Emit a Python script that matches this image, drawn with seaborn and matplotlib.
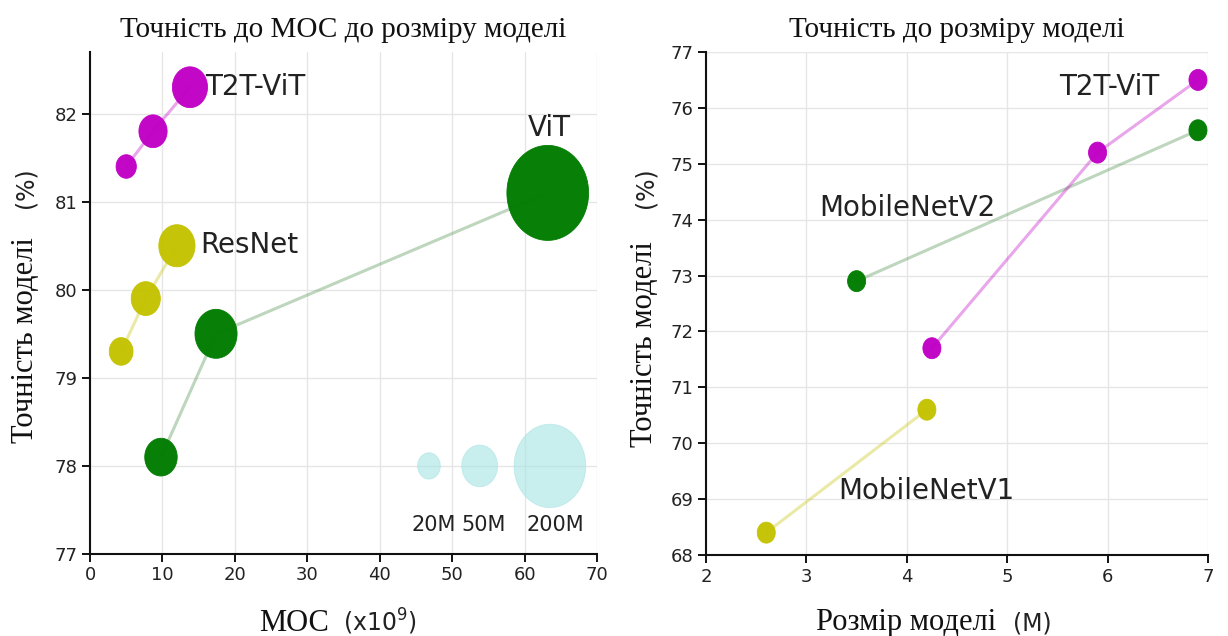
import numpy as np
import matplotlib
matplotlib.use("Agg")
import matplotlib.pyplot as plt
from matplotlib.path import Path
import seaborn as sns

# ---- Left panel: accuracy vs MOC, bubble area = parameter count (M) ----
t2t_moc = [5.0, 8.7, 13.8]
t2t_acc = [81.4, 81.8, 82.3]
t2t_params = [16, 31, 48]

resnet_moc = [4.3, 7.7, 12.0]
resnet_acc = [79.3, 79.9, 80.5]
resnet_params = [22, 33, 51]

vit_moc = [9.8, 17.4, 63.2]
vit_acc = [78.1, 79.5, 81.1]
vit_params = [41, 69, 260]

ref_params = [20, 50, 200]
ref_labels = ["20M", "50M", "200M"]
ref_moc = [46.8, 53.8, 63.5]
ref_acc = [78.0, 78.0, 78.0]

# ---- Right panel: accuracy vs model size (M) ----
mbv1_size = [2.6, 4.2]
mbv1_acc = [68.4, 70.6]
mbv2_size = [3.5, 6.9]
mbv2_acc = [72.9, 75.6]
t2t_lite_size = [4.25, 5.9, 6.9]
t2t_lite_acc = [71.7, 75.2, 76.5]

left_xticks = [0, 10, 20, 30, 40, 50, 60, 70]
left_yticks = [77, 78, 79, 80, 81, 82]
right_xticks = [2, 3, 4, 5, 6, 7]
right_yticks = [68, 69, 70, 71, 72, 73, 74, 75, 76, 77]

MAGENTA = "#c000c4"
OLIVE = "#c4c200"
GREEN = "#007c00"
CYAN = "#a6e3e3"

SERIF = "Liberation Serif"
SANS = "DejaVu Sans"

sns.set_theme(style="whitegrid")

W, H = 1228, 636
fig = plt.figure(figsize=(W / 100, H / 100), dpi=100)


def fpos(x, y):
    return x / W, 1 - y / H


ax1 = fig.add_axes([90 / W, (H - 554) / H, (597 - 90) / W, (554 - 52) / H])
ax2 = fig.add_axes([706 / W, (H - 555) / H, (1208 - 706) / W, (555 - 52) / H])

# slightly tall ellipse used as the bubble marker
theta = np.linspace(0, 2 * np.pi, 80)
ellipse = Path(np.column_stack([0.86 * np.cos(theta), np.sin(theta)]), closed=True)

# bubble area scale: points^2 per million parameters
AREA_PER_M = 18.0


def connect(ax, x, y, color, alpha):
    sns.lineplot(x=x, y=y, color=color, alpha=alpha, lw=2.2, ax=ax,
                 estimator=None, sort=False, zorder=2)


def bubbles(ax, x, y, sizes, color, alpha=0.97):
    sns.scatterplot(x=x, y=y, s=sizes, marker=ellipse, color=color,
                    edgecolor=color, linewidth=0.6, alpha=alpha, ax=ax,
                    zorder=3, legend=False)


# left panel
connect(ax1, t2t_moc, t2t_acc, MAGENTA, 0.35)
connect(ax1, resnet_moc, resnet_acc, OLIVE, 0.35)
connect(ax1, vit_moc, vit_acc, "#5a9a5a", 0.4)
bubbles(ax1, t2t_moc, t2t_acc, [p * AREA_PER_M for p in t2t_params], MAGENTA)
bubbles(ax1, resnet_moc, resnet_acc, [p * AREA_PER_M for p in resnet_params], OLIVE)
bubbles(ax1, vit_moc, vit_acc, [p * AREA_PER_M for p in vit_params], GREEN)
bubbles(ax1, ref_moc, ref_acc, [p * AREA_PER_M for p in ref_params], CYAN, alpha=0.6)

ax1.text(15.9, 82.3, "T2T-ViT", family=SANS, fontsize=20, color="#222", va="center", ha="left")
ax1.text(63.4, 81.84, "ViT", family=SANS, fontsize=20, color="#222", va="center", ha="center")
ax1.text(15.2, 80.51, "ResNet", family=SANS, fontsize=20, color="#222", va="center", ha="left")
for xm, lab in zip([47.4, 54.3, 64.3], ref_labels):
    ax1.text(xm, 77.33, lab, family=SANS, fontsize=15, color="#222", va="center", ha="center")

ax1.set_xlim(0, 70)
ax1.set_ylim(77, 82.7)
ax1.set_xticks(left_xticks)
ax1.set_yticks(left_yticks)

# right panel
connect(ax2, mbv1_size, mbv1_acc, OLIVE, 0.35)
connect(ax2, mbv2_size, mbv2_acc, "#5a9a5a", 0.4)
connect(ax2, t2t_lite_size, t2t_lite_acc, MAGENTA, 0.35)
bubbles(ax2, mbv1_size, mbv1_acc, [228] * len(mbv1_size), OLIVE)
bubbles(ax2, mbv2_size, mbv2_acc, [228] * len(mbv2_size), GREEN)
bubbles(ax2, t2t_lite_size, t2t_lite_acc, [228] * len(t2t_lite_size), MAGENTA)

ax2.text(6.02, 76.37, "T2T-ViT", family=SANS, fontsize=20, color="#222", va="center", ha="center")
ax2.text(4.01, 74.2, "MobileNetV2", family=SANS, fontsize=20, color="#222", va="center", ha="center")
ax2.text(4.19, 69.15, "MobileNetV1", family=SANS, fontsize=20, color="#222", va="center", ha="center")

ax2.set_xlim(2, 7)
ax2.set_ylim(68, 77)
ax2.set_xticks(right_xticks)
ax2.set_yticks(right_yticks)

for ax in (ax1, ax2):
    ax.set_xlabel("")
    ax.set_ylabel("")
    ax.grid(True, color="#e6e6e6", lw=1.0)
    ax.set_axisbelow(True)
    for side in ("top", "right"):
        ax.spines[side].set_visible(False)
    for side in ("left", "bottom"):
        ax.spines[side].set_visible(True)
        ax.spines[side].set_color("#111")
        ax.spines[side].set_linewidth(1.5)
    ax.tick_params(axis="both", which="major", bottom=True, left=True,
                   direction="out", length=6, width=1.4, color="#111",
                   labelsize=13, labelcolor="#222", pad=3)
    for lab in ax.get_xticklabels() + ax.get_yticklabels():
        lab.set_family(SANS)

ax1.set_title("Точність до МОС до розміру моделі", family=SERIF, fontsize=21, pad=11, color="#111")
ax2.set_title("Точність до розміру моделі", family=SERIF, fontsize=21, pad=11, color="#111")

# axis labels: serif words followed by sans-serif units
x, y = fpos(329, 631)
fig.text(x, y, "МОС", family=SERIF, fontsize=22, ha="right", va="baseline", color="#111")
x, y = fpos(343, 631)
fig.text(x, y, "(x10$^9$)", family=SANS, fontsize=17, ha="left", va="baseline", color="#222")

x, y = fpos(996, 630)
fig.text(x, y, "Розмір моделі", family=SERIF, fontsize=22, ha="right", va="baseline", color="#111")
x, y = fpos(1013, 630)
fig.text(x, y, "(M)", family=SANS, fontsize=17, ha="left", va="baseline", color="#222")

for bx, by_serif, by_unit in [(33, 443, 208), (652, 447, 208)]:
    x, y = fpos(bx, by_serif)
    fig.text(x, y, "Точність моделі", family=SERIF, fontsize=22, rotation=90,
             rotation_mode="anchor", ha="left", va="baseline", color="#111")
    x, y = fpos(bx, by_unit)
    fig.text(x, y, "(%)", family=SANS, fontsize=17, rotation=90,
             rotation_mode="anchor", ha="left", va="baseline", color="#222")

fig.savefig("out.png", dpi=100)
